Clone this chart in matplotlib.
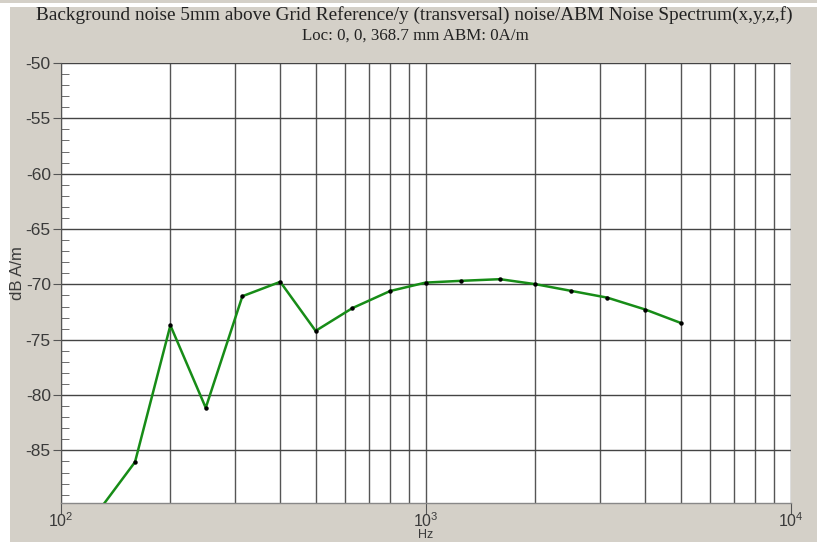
import matplotlib
matplotlib.use("Agg")
import matplotlib.pyplot as plt
from matplotlib.patches import Rectangle
from matplotlib.ticker import LogLocator, MultipleLocator, NullFormatter
import numpy as np

plt.rcParams["axes.unicode_minus"] = False

freq_hz = [125, 160, 200, 250, 315, 400, 500, 630, 800, 1000, 1250, 1600, 2000, 2500, 3150, 4000, 5000]
level_db = [-90.8, -86.05, -73.7, -81.15, -71.07, -69.77, -74.2, -72.15, -70.6, -69.84,
            -69.68, -69.53, -69.98, -70.58, -71.2, -72.27, -73.48]

title_line1 = "Background noise 5mm above Grid Reference/y (transversal) noise/ABM Noise Spectrum(x,y,z,f)"
title_line2 = "Loc: 0, 0, 368.7 mm ABM: 0A/m"
ylabel = "dB A/m"
xlabel = "Hz"

W, H = 817, 542
bg = "#D4D0C8"
fig = plt.figure(figsize=(W / 100, H / 100), dpi=100)
fig.patch.set_facecolor("white")
fig.patches.append(Rectangle((10 / W, 0), 1, (H - 7) / H, transform=fig.transFigure,
                             facecolor=bg, edgecolor="none", zorder=-10))
fig.patches.append(Rectangle((0, (H - 3) / H), 1, 3 / H, transform=fig.transFigure,
                             facecolor=bg, edgecolor="none", zorder=-10))

left, right, top, bottom = 60.5, 790.5, 63, 503
ax = fig.add_axes([left / W, (H - bottom) / H, (right - left) / W, (bottom - top) / H])
ax.set_facecolor("white")

ax.plot(freq_hz, level_db, color="#178c17", lw=1.8, marker="o", ms=2.2,
        mfc="black", mec="black", zorder=5, clip_on=True)

ax.set_xscale("log")
ax.set_xlim(100, 10000)
ax.set_ylim(-89.75, -50)

ax.yaxis.set_major_locator(MultipleLocator(5))
ax.yaxis.set_minor_locator(MultipleLocator(1))
ax.xaxis.set_major_locator(LogLocator(base=10, numticks=10))
ax.xaxis.set_minor_locator(LogLocator(base=10, subs=np.arange(2, 10), numticks=20))
ax.xaxis.set_minor_formatter(NullFormatter())

ax.grid(True, which="major", axis="y", color="#444444", lw=1.0)
ax.grid(True, which="both", axis="x", color="#555555", lw=1.0)
ax.set_axisbelow(True)

for s in ["top", "right"]:
    ax.spines[s].set_visible(False)
ax.spines["left"].set_color("#555555")
ax.spines["bottom"].set_color("#888888")
ax.spines["bottom"].set_linewidth(1.0)

ax.tick_params(axis="y", which="major", direction="out", length=6, color="#555555",
               labelsize=12.5, labelcolor="#3a3a3a", pad=1)
ax.tick_params(axis="y", which="minor", direction="in", length=6, color="#555555")
ax.tick_params(axis="x", which="major", direction="out", length=8, color="#555555",
               labelsize=11.5, labelcolor="#3a3a3a", pad=-2)
ax.tick_params(axis="x", which="minor", length=0)
for lab in ax.get_xticklabels() + ax.get_yticklabels():
    lab.set_family("Liberation Sans")

fig.text(17 / W, 1 - 273 / H, ylabel, rotation=90, ha="center", va="center",
         family="Liberation Sans", fontsize=12, color="#3a3a3a")
fig.text(426 / W, 0.5 / H, xlabel, ha="center", va="bottom", family="Liberation Sans",
         fontsize=9, color="#3a3a3a")

fig.text(414 / W, 1 - 15 / H, title_line1, ha="center", va="center", family="Liberation Serif",
         fontsize=13.9, color="#222222")
fig.text(415 / W, 1 - 36 / H, title_line2, ha="center", va="center", family="Liberation Serif",
         fontsize=12.2, color="#222222")

fig.savefig("out.png", dpi=100, facecolor=fig.get_facecolor())
